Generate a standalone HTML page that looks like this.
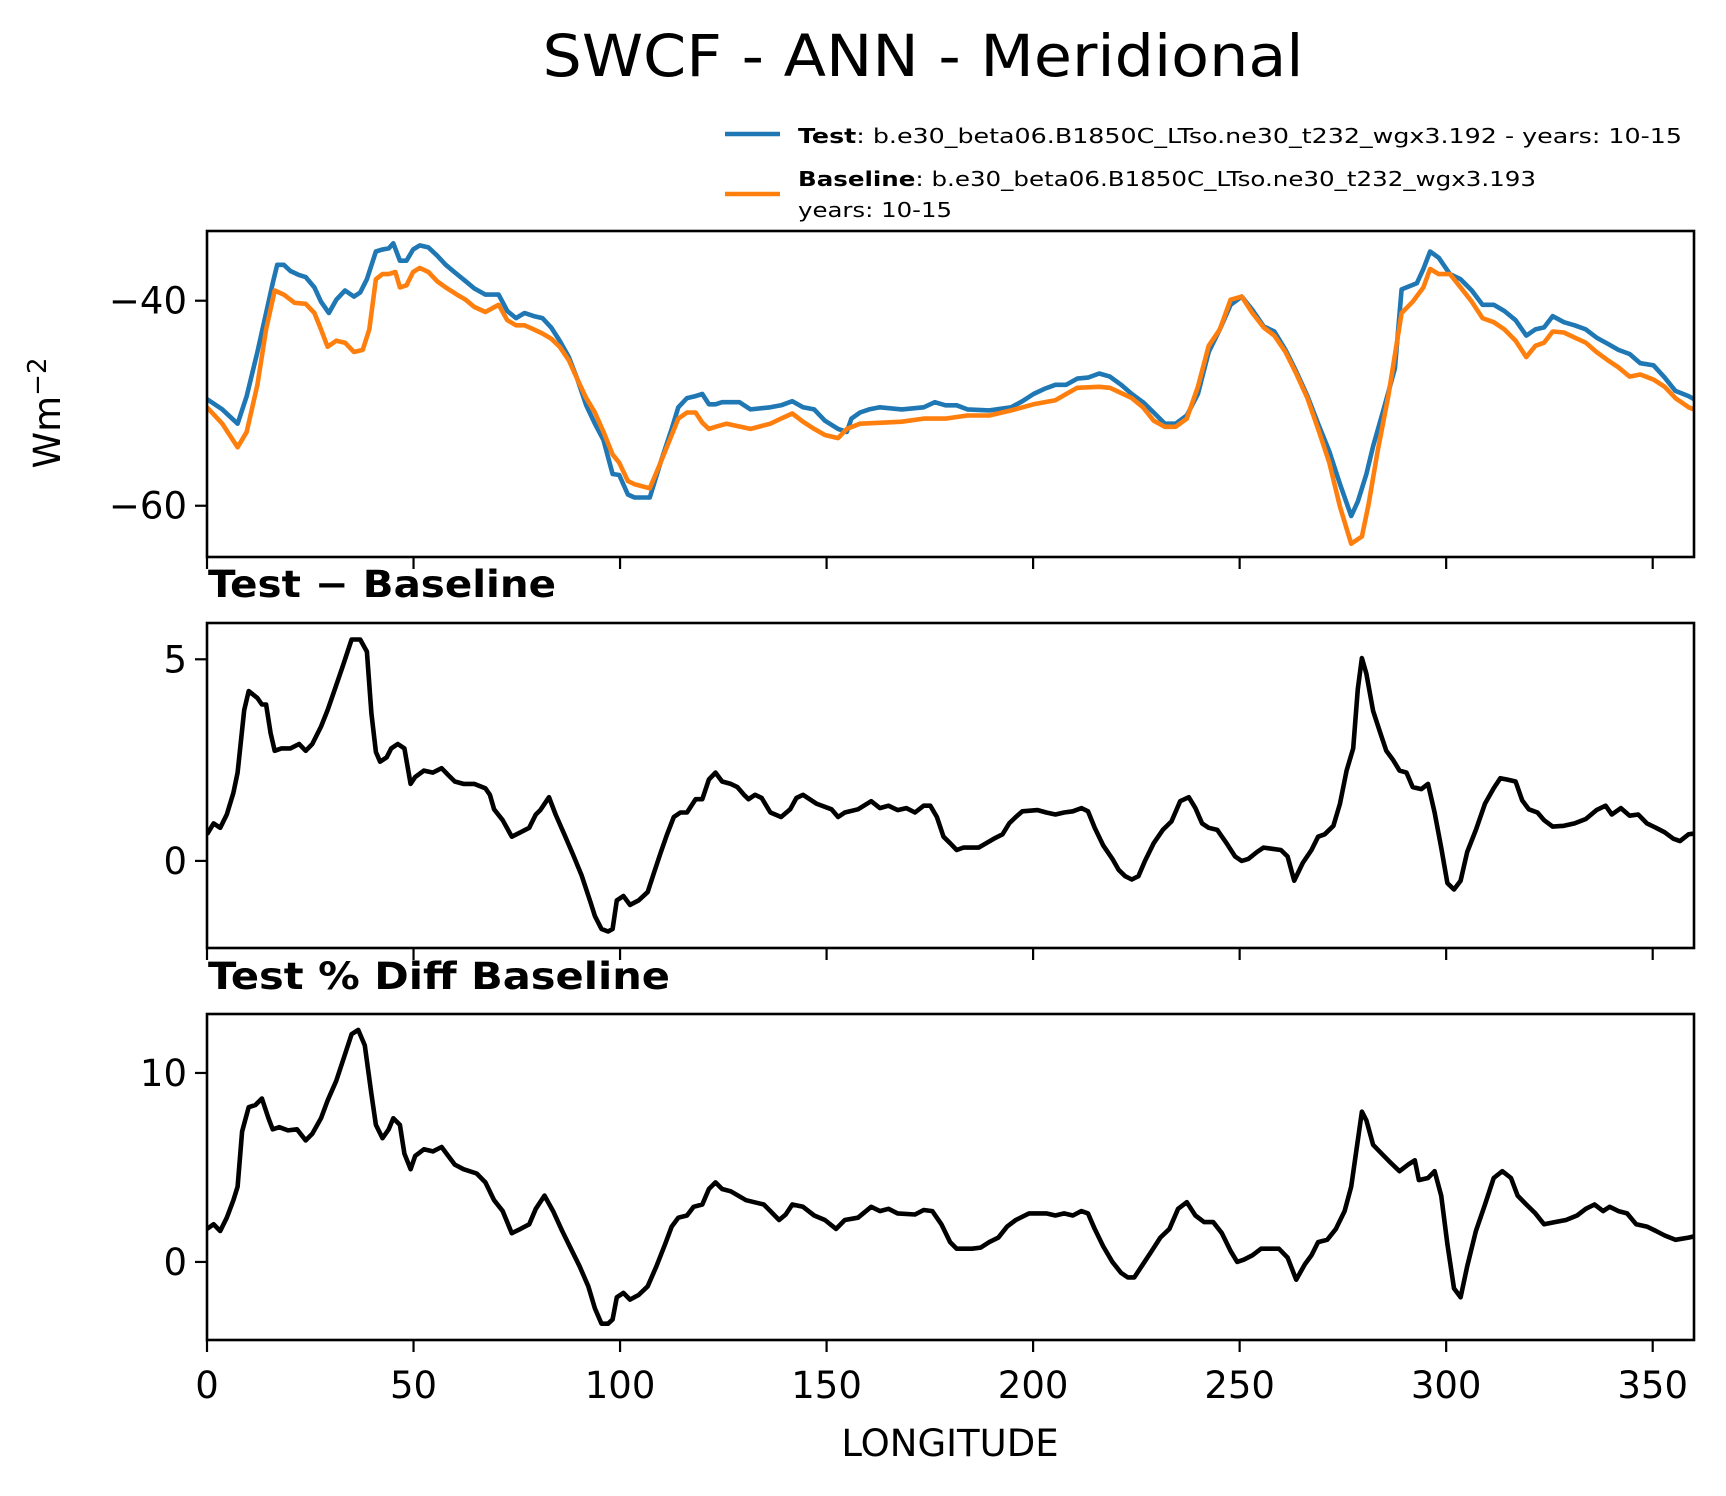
<!DOCTYPE html>
<html><head><meta charset="utf-8"><style>
html,body{margin:0;padding:0;background:#fff;}
svg{display:block;font-family:"DejaVu Sans","Liberation Sans",sans-serif;}
</style></head><body>
<svg id="chart" width="1726" height="1496" viewBox="0 0 1726 1496" xmlns="http://www.w3.org/2000/svg">
<rect width="1726" height="1496" fill="#fff"/>
<text x="923" y="76" font-size="58" text-anchor="middle" textLength="761" lengthAdjust="spacingAndGlyphs">SWCF - ANN - Meridional</text>
<g>
<line x1="725" y1="134" x2="780" y2="134" stroke="#1f77b4" stroke-width="4.5"/>
<text x="798" y="143" font-size="20" textLength="884" lengthAdjust="spacingAndGlyphs"><tspan font-weight="bold">Test</tspan>: b.e30_beta06.B1850C_LTso.ne30_t232_wgx3.192 - years: 10-15</text>
<line x1="725" y1="194" x2="780" y2="194" stroke="#ff7f0e" stroke-width="4.5"/>
<text x="798" y="186" font-size="20" textLength="738" lengthAdjust="spacingAndGlyphs"><tspan font-weight="bold">Baseline</tspan>: b.e30_beta06.B1850C_LTso.ne30_t232_wgx3.193</text>
<text x="798" y="217" font-size="20" textLength="154" lengthAdjust="spacingAndGlyphs">years: 10-15</text>
</g>
<text x="208" y="597" font-size="37" font-weight="bold" textLength="348" lengthAdjust="spacingAndGlyphs">Test − Baseline</text>
<text x="208" y="989" font-size="37" font-weight="bold" textLength="462" lengthAdjust="spacingAndGlyphs">Test % Diff Baseline</text>
<text transform="translate(60,413) rotate(-90)" font-size="37" text-anchor="middle">Wm<tspan dy="-14" font-size="26">−2</tspan></text>
<text x="950" y="1456" font-size="37" text-anchor="middle">LONGITUDE</text>
<g id="plots"></g>
</svg>
<script>
const lonTest=[0,3.7,7.4,9.6,12.2,14.3,15.9,17.0,18.6,20.2,22.3,23.9,26.0,27.6,29.5,31.3,33.4,35.6,37.1,38.7,40.9,42.5,44.0,45.1,46.7,48.3,49.9,51.5,53.6,55.7,57.8,60.5,62.6,64.7,67.4,70.6,72.7,74.8,76.9,79.1,81.2,83.3,85.4,87.6,89.7,91.8,93.9,96.0,98.2,99.8,101.9,103.5,107.2,109.8,112.5,114.1,116.2,118.3,119.9,121.5,123.1,124.7,128.9,131.6,136.4,139.0,141.7,144.3,147.0,149.6,152.8,154.9,156.0,158.1,160.3,162.9,168.2,173.5,176.2,178.8,181.5,184.1,189.4,194.7,197.4,200.1,202.7,205.4,208.0,210.7,213.3,216.0,218.6,221.3,223.9,226.6,229.2,231.9,234.5,237.2,239.9,242.5,245.2,247.8,250.5,253.1,255.8,258.4,261.1,263.7,266.4,269.0,271.7,274.3,277.0,278.6,280.7,282.3,285.0,287.6,289.2,292.9,294.5,296.1,298.2,300.9,303.5,306.2,308.8,311.5,314.1,316.8,319.4,321.6,323.7,325.8,328.5,331.1,333.8,336.4,339.1,341.7,344.4,347.0,350.2,352.9,355.5,358.7,360];
const testVals=[-49.6,-50.6,-52.0,-49.3,-45.0,-41.2,-38.3,-36.5,-36.5,-37.1,-37.5,-37.7,-38.7,-40.1,-41.2,-39.9,-39.0,-39.6,-39.2,-37.9,-35.2,-35.0,-34.9,-34.4,-36.1,-36.1,-35.0,-34.6,-34.8,-35.6,-36.5,-37.4,-38.1,-38.8,-39.4,-39.4,-41.0,-41.7,-41.2,-41.5,-41.7,-42.6,-43.9,-45.5,-47.7,-50.2,-52.0,-53.6,-56.9,-57.0,-58.9,-59.2,-59.2,-55.8,-52.5,-50.4,-49.5,-49.3,-49.1,-50.1,-50.1,-49.9,-49.9,-50.6,-50.4,-50.2,-49.8,-50.4,-50.6,-51.7,-52.5,-52.8,-51.5,-50.9,-50.6,-50.4,-50.6,-50.4,-49.9,-50.2,-50.2,-50.6,-50.7,-50.4,-49.8,-49.1,-48.6,-48.2,-48.2,-47.6,-47.5,-47.1,-47.4,-48.2,-49.1,-49.9,-50.9,-52.0,-52.0,-51.2,-49.1,-45.0,-42.8,-40.4,-39.6,-40.9,-42.5,-43.0,-44.8,-46.9,-49.3,-52.0,-54.7,-57.9,-61.0,-59.6,-56.9,-54.2,-50.4,-46.6,-38.9,-38.3,-36.9,-35.2,-35.8,-37.4,-37.9,-39.0,-40.4,-40.4,-41.0,-41.9,-43.4,-42.8,-42.6,-41.5,-42.1,-42.4,-42.8,-43.6,-44.2,-44.8,-45.2,-46.1,-46.3,-47.5,-48.8,-49.3,-49.6];
const lonBase=[0,3.7,7.4,9.6,12.2,14.3,16.4,18.6,21.2,23.9,26.0,27.6,29.2,31.3,33.4,35.6,37.7,39.3,40.9,42.5,44.0,45.6,46.7,48.3,49.9,51.5,53.6,55.7,57.8,60.5,62.6,64.7,67.4,70.6,72.7,74.8,76.9,79.1,81.2,83.3,85.4,87.6,89.7,91.8,93.9,96.0,98.2,99.8,101.9,103.5,107.2,109.8,112.5,114.1,116.2,118.3,119.9,121.5,123.1,125.8,131.6,136.4,139.0,141.7,144.3,147.0,149.6,152.8,154.9,158.1,168.2,173.5,178.8,184.1,189.4,194.7,200.1,205.4,208.0,210.7,216.0,218.6,221.3,223.9,226.6,229.2,231.9,234.5,237.2,239.9,242.5,245.2,247.8,250.5,253.1,255.8,258.4,261.1,263.7,266.4,269.0,271.7,274.3,277.0,279.6,281.2,283.4,286.0,289.2,291.9,294.5,296.1,298.2,300.9,303.5,306.2,308.8,311.5,314.1,316.8,319.4,321.6,323.7,325.8,328.5,331.1,333.8,336.4,339.1,341.7,344.4,347.0,350.2,352.9,355.5,358.7,360];
const baseVals=[-50.4,-52.0,-54.3,-52.8,-48.2,-42.8,-39.0,-39.4,-40.2,-40.3,-41.2,-42.8,-44.5,-43.9,-44.1,-45.0,-44.8,-42.8,-37.9,-37.4,-37.4,-37.2,-38.7,-38.5,-37.2,-36.8,-37.2,-38.1,-38.7,-39.4,-39.9,-40.6,-41.1,-40.4,-41.9,-42.4,-42.4,-42.8,-43.2,-43.7,-44.5,-45.8,-47.7,-49.5,-50.9,-52.8,-55.0,-55.8,-57.6,-57.9,-58.3,-55.8,-53.1,-51.5,-50.9,-50.9,-51.9,-52.5,-52.3,-52.0,-52.5,-52.0,-51.5,-51.0,-51.8,-52.5,-53.1,-53.4,-52.5,-52.0,-51.8,-51.5,-51.5,-51.2,-51.2,-50.7,-50.1,-49.7,-49.1,-48.5,-48.4,-48.5,-49.0,-49.5,-50.4,-51.7,-52.3,-52.3,-51.5,-48.4,-44.4,-42.8,-39.9,-39.6,-41.2,-42.6,-43.4,-45.0,-47.1,-49.5,-52.5,-55.8,-60.1,-63.7,-63.0,-59.9,-54.7,-49.3,-41.2,-40.1,-38.7,-36.9,-37.4,-37.4,-38.7,-40.1,-41.7,-42.1,-42.8,-43.9,-45.5,-44.4,-44.1,-43.0,-43.1,-43.6,-44.1,-45.0,-45.8,-46.5,-47.4,-47.2,-47.7,-48.4,-49.5,-50.4,-50.6];
const lonDiff=[0,1.6,3.2,4.8,6.4,7.4,9.0,10.1,12.2,13.3,14.3,15.4,16.4,18.0,20.2,22.3,23.9,25.5,27.6,29.2,30.8,32.9,35.0,37.1,38.7,39.8,40.9,41.9,43.5,44.6,46.2,47.8,49.3,50.4,52.5,54.7,56.8,58.4,60.0,62.1,64.7,67.4,68.5,69.5,71.6,73.8,75.9,78.0,79.6,80.7,82.8,84.4,86.5,88.6,90.7,92.9,93.9,95.5,97.1,98.2,99.2,100.8,102.4,104.5,106.7,108.3,109.8,111.4,113.0,114.6,116.2,118.3,119.9,121.5,123.1,124.7,126.8,128.4,130.0,131.1,132.7,134.3,136.4,139.0,141.2,142.7,144.3,147.5,151.2,152.8,154.4,157.6,160.8,162.9,165.0,167.2,169.3,171.4,173.5,175.1,176.7,178.3,179.9,181.5,183.1,186.8,190.5,192.6,194.2,195.8,197.4,201.1,203.2,205.4,207.5,209.6,211.7,213.3,214.9,217.0,219.2,220.7,222.3,223.9,225.5,227.1,229.2,231.4,233.5,235.6,237.7,239.3,240.9,242.5,244.6,246.7,248.9,250.5,252.1,254.2,255.8,257.9,260.0,261.6,263.2,265.3,267.4,269.0,270.6,272.7,274.3,275.9,277.5,278.6,279.6,280.7,282.3,283.9,285.5,287.1,288.7,290.4,291.9,294.0,295.6,297.2,298.8,300.3,301.9,303.5,305.1,307.2,309.4,311.5,313.1,314.7,316.8,318.4,320.0,322.1,323.7,325.8,328.5,331.1,333.8,336.4,338.6,340.1,342.3,344.4,346.5,348.6,350.8,352.9,355.0,356.6,358.7,360];
const diffVals=[0.66,0.93,0.82,1.15,1.69,2.19,3.74,4.21,4.04,3.88,3.88,3.17,2.73,2.79,2.79,2.90,2.73,2.90,3.33,3.74,4.21,4.84,5.49,5.49,5.19,3.66,2.70,2.46,2.57,2.79,2.90,2.79,1.91,2.08,2.24,2.19,2.30,2.13,1.97,1.91,1.91,1.80,1.64,1.28,1.01,0.60,0.71,0.82,1.15,1.26,1.58,1.15,0.66,0.16,-0.36,-1.04,-1.37,-1.69,-1.75,-1.69,-0.98,-0.87,-1.09,-0.98,-0.77,-0.27,0.19,0.66,1.09,1.20,1.20,1.53,1.53,2.02,2.19,1.97,1.91,1.83,1.64,1.53,1.64,1.56,1.20,1.09,1.28,1.56,1.64,1.42,1.28,1.09,1.20,1.28,1.48,1.31,1.37,1.26,1.31,1.20,1.37,1.37,1.09,0.60,0.44,0.27,0.33,0.33,0.55,0.66,0.93,1.09,1.23,1.26,1.20,1.15,1.20,1.23,1.31,1.23,0.82,0.38,0.05,-0.22,-0.38,-0.46,-0.38,0,0.44,0.77,0.98,1.48,1.58,1.31,0.93,0.82,0.77,0.46,0.11,0,0.05,0.22,0.33,0.30,0.27,0.11,-0.49,-0.05,0.27,0.60,0.66,0.87,1.42,2.24,2.79,4.26,5.03,4.64,3.72,3.22,2.73,2.51,2.24,2.19,1.83,1.78,1.91,1.20,0.33,-0.55,-0.71,-0.49,0.22,0.77,1.42,1.80,2.05,2.02,1.97,1.50,1.28,1.20,1.01,0.85,0.87,0.93,1.04,1.26,1.37,1.15,1.31,1.12,1.15,0.93,0.82,0.71,0.55,0.49,0.66,0.68];
const lonPct=[0,1.6,3.2,4.8,6.4,7.4,8.5,10.1,11.7,13.3,14.9,15.9,17.5,19.6,21.8,23.9,25.5,27.6,29.2,31.3,33.4,35.0,36.6,38.2,39.8,40.9,42.5,44.0,45.1,46.7,47.8,49.3,50.4,52.5,54.7,56.8,58.4,60.0,62.1,65.3,67.4,69.5,71.6,73.8,75.9,78.0,79.6,81.7,83.8,86.0,88.1,90.2,92.3,93.9,95.5,97.1,98.2,99.2,100.8,102.4,104.5,106.7,108.8,110.9,112.5,114.1,116.2,117.8,119.9,121.5,123.1,124.7,126.8,130.5,134.8,136.4,138.5,140.1,141.7,144.3,147.0,149.6,152.3,154.4,157.6,160.8,162.9,165.0,167.2,171.4,173.5,175.6,177.8,179.9,181.5,185.2,187.3,189.4,191.6,193.7,195.8,199.0,203.2,205.4,207.5,209.6,211.7,213.3,214.9,217.0,219.2,221.3,222.9,224.5,226.6,228.7,230.8,233.0,235.1,237.2,239.3,241.4,243.6,245.7,247.8,249.4,251.0,253.1,255.2,259.5,261.6,263.7,265.8,267.4,269.0,271.2,273.3,275.4,277.0,278.6,279.6,280.7,282.3,284.4,286.5,288.7,290.8,292.4,293.4,295.6,297.2,298.8,300.3,301.9,303.5,305.1,307.2,309.4,311.5,313.6,315.7,317.3,319.4,321.6,323.7,326.3,329.0,331.7,333.8,335.9,338.0,339.6,341.7,343.8,346.0,348.6,350.8,352.9,355.5,358.7,360];
const pctVals=[1.75,1.99,1.64,2.34,3.27,3.98,6.90,8.19,8.30,8.65,7.60,7.02,7.13,6.96,7.02,6.43,6.78,7.60,8.54,9.59,10.99,12.05,12.28,11.46,8.89,7.25,6.55,7.02,7.60,7.25,5.73,4.91,5.61,5.96,5.85,6.08,5.61,5.15,4.91,4.68,4.21,3.27,2.69,1.52,1.75,1.99,2.81,3.51,2.69,1.64,0.70,-0.23,-1.29,-2.46,-3.27,-3.27,-3.04,-1.87,-1.64,-1.99,-1.75,-1.29,-0.23,0.94,1.87,2.34,2.46,2.92,3.04,3.86,4.21,3.86,3.74,3.27,3.04,2.69,2.22,2.51,3.04,2.92,2.46,2.22,1.75,2.22,2.34,2.92,2.69,2.81,2.57,2.51,2.75,2.69,1.99,1.05,0.70,0.70,0.76,1.05,1.29,1.87,2.22,2.57,2.57,2.46,2.57,2.46,2.69,2.57,1.75,0.82,0,-0.58,-0.82,-0.82,-0.12,0.58,1.29,1.75,2.81,3.16,2.46,2.11,2.11,1.52,0.58,0,0.12,0.35,0.70,0.70,0.23,-0.94,-0.12,0.35,1.05,1.17,1.75,2.69,3.98,6.43,7.95,7.49,6.20,5.73,5.26,4.80,5.15,5.38,4.33,4.44,4.80,3.51,0.94,-1.40,-1.87,-0.23,1.64,3.04,4.44,4.80,4.44,3.51,3.04,2.57,1.99,2.11,2.22,2.46,2.81,3.04,2.69,2.92,2.69,2.57,1.99,1.87,1.64,1.40,1.17,1.29,1.35];
const xTicks=[0,50,100,150,200,250,300,350];
const yTicks1=[-40,-60];
const yTicks2=[0,5];
const yTicks3=[0,10];

const NS='http://www.w3.org/2000/svg';
const X0=207,X1=1694;
const xs=v=>X0+(v/360)*(X1-X0);
const panels=[
 {name:'mean-panel',top:231,bot:557,vTop:-33.2,vBot:-65.0,ticks:yTicks1},
 {name:'difference-panel',top:623,bot:948,vTop:5.9,vBot:-2.16,ticks:yTicks2},
 {name:'percent-diff-panel',top:1014,bot:1340,vTop:13.12,vBot:-4.13,ticks:yTicks3}
];
const root=document.getElementById('plots');
function mk(tag,attrs,parent){const e=document.createElementNS(NS,tag);for(const k in attrs)e.setAttribute(k,attrs[k]);(parent||root).appendChild(e);return e;}
function fmt(v){return v<0?'\u2212'+Math.abs(v):String(v);}
panels.forEach((p,pi)=>{
 const ys=v=>p.top+(p.vTop-v)/(p.vTop-p.vBot)*(p.bot-p.top);
 const g=mk('g',{});
 
 
 const clipId='clip'+pi;
 const cp=mk('clipPath',{id:clipId},g);
 mk('rect',{x:X0,y:p.top,width:X1-X0,height:p.bot-p.top},cp);
 const series=pi===0?[[lonTest,testVals,'#1f77b4','test-line'],[lonBase,baseVals,'#ff7f0e','baseline-line']]:pi===1?[[lonDiff,diffVals,'#000','difference-line']]:[[lonPct,pctVals,'#000','percent-diff-line']];
 series.forEach(s=>{
  const d=s[0].map((l,i)=>(i?'L':'M')+xs(l).toFixed(1)+','+ys(s[1][i]).toFixed(1)).join('');
  const path=mk('path',{d:d,fill:'none',stroke:s[2],'stroke-width':4.6,'stroke-linejoin':'round','clip-path':'url(#'+clipId+')'},g);
  
  
 });
 const frame=mk('rect',{x:X0,y:p.top,width:X1-X0,height:p.bot-p.top,fill:'none',stroke:'#000','stroke-width':2.6},g);
 
 
 xTicks.forEach(t=>{
  const tk=mk('line',{x1:xs(t),x2:xs(t),y1:p.bot,y2:p.bot+12,stroke:'#000','stroke-width':2.2},g);
  
  
  if(pi===2){
   const lb=mk('text',{x:xs(t),y:1398,'font-size':37,'text-anchor':'middle'},g);
   lb.textContent=t;
   
   
  }
 });
 p.ticks.forEach(t=>{
  const tk=mk('line',{x1:X0-12,x2:X0,y1:ys(t),y2:ys(t),stroke:'#000','stroke-width':2.2},g);
  
  
  const lb=mk('text',{x:X0-20,y:ys(t)+13,'font-size':37,'text-anchor':'end'},g);
  lb.textContent=fmt(t);
  
  
 });
});
</script>
</body></html>
